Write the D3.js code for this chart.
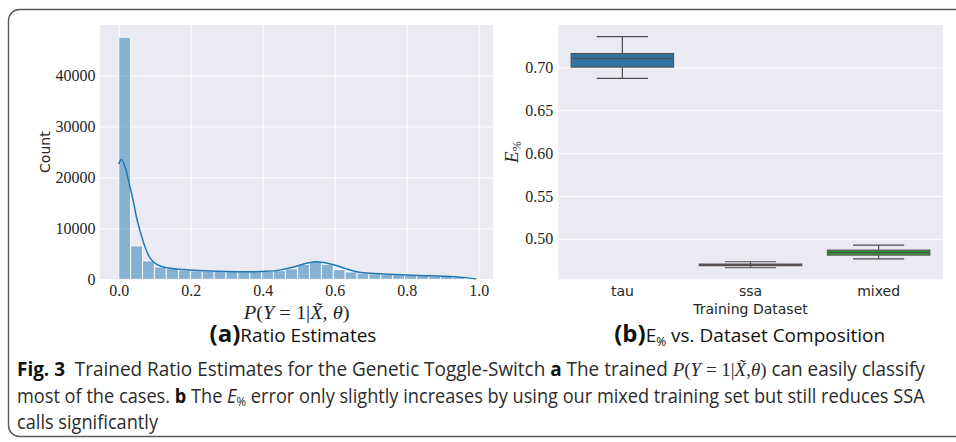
<!DOCTYPE html>
<html><head><meta charset="utf-8">
<script src="https://cdn.jsdelivr.net/npm/d3@7"></script>
<style>html,body{margin:0;padding:0;background:#fff;} svg{display:block;}</style>
</head><body><svg id="c" width="956" height="442"></svg>
<script>
// ---------- data ----------
const histBinEdges = [0.000,0.033,0.066,0.099,0.132,0.166,0.199,0.232,0.265,0.298,0.331,0.364,0.397,0.430,0.463,0.497,0.530,0.563,0.596,0.629,0.662,0.695,0.728,0.761,0.794,0.828,0.861,0.894,0.927,0.960,0.993];
const histCounts = [47500,6550,3600,2400,2100,1800,1650,1630,1580,1520,1510,1520,1560,1700,2050,2900,3480,2950,1900,1450,1200,1050,950,880,800,720,650,560,430,220];
const kdeX = [0.000,0.007,0.020,0.030,0.040,0.050,0.060,0.070,0.080,0.090,0.100,0.120,0.150,0.180,0.220,0.300,0.360,0.410,0.450,0.480,0.510,0.546,0.570,0.600,0.630,0.660,0.700,0.750,0.800,0.850,0.900,0.940,0.970,0.993];
const kdeY = [22600,23500,21500,18500,15500,12000,9300,7000,5100,3900,3200,2500,2100,1900,1720,1530,1480,1560,1850,2300,2900,3450,3300,2800,2100,1500,1200,980,850,720,600,460,280,80];
const histXTicks = [0.0,0.2,0.4,0.6,0.8,1.0];
const histYTicks = [0,10000,20000,30000,40000];

const boxCategories = ["tau","ssa","mixed"];
const boxWhiskerLow  = [0.6872,0.4663,0.4767];
const boxQ1          = [0.7003,0.4686,0.4810];
const boxMedian      = [0.7105,0.4695,0.4841];
const boxQ3          = [0.7163,0.4706,0.4869];
const boxWhiskerHigh = [0.7360,0.4733,0.4927];
const boxColors = ["#3274a1","#845b53","#3a923a"];
const boxYTicks = [0.50,0.55,0.60,0.65,0.70];

// ---------- drawing ----------
const svg = d3.select("#c");
const BG = "#eaeaf2";
const serif = "'Liberation Serif', 'DejaVu Serif', serif";
const sans = "'DejaVu Sans', sans-serif";
const capFont = "'Open Sans', 'Noto Sans', sans-serif";

svg.append("rect").attr("x",8.5).attr("y",9.5).attr("width",1000).attr("height",427)
  .attr("rx",11).attr("fill","#fff").attr("stroke","#5a5a5a").attr("stroke-width",1.4);

// ----- Panel A -----
const A = {l:100, r:493.3, t:25, b:279.3};
const xA = d3.scaleLinear().domain([-0.052,1.0405]).range([A.l,A.r]);
const yA = d3.scaleLinear().domain([0,49900]).range([A.b,A.t]);
const gA = svg.append("g");
gA.append("rect").attr("x",A.l).attr("y",A.t).attr("width",A.r-A.l).attr("height",A.b-A.t).attr("fill",BG);

const gxA = gA.append("g").attr("transform",`translate(0,${A.b})`)
  .call(d3.axisBottom(xA).tickValues(histXTicks).tickSize(-(A.b-A.t)).tickFormat(d3.format(".1f")));
const gyA = gA.append("g").attr("transform",`translate(${A.l},0)`)
  .call(d3.axisLeft(yA).tickValues(histYTicks).tickSize(-(A.r-A.l)).tickPadding(4.5).tickFormat(d3.format("d")));
[gxA,gyA].forEach(g=>{
  g.select(".domain").remove();
  g.selectAll(".tick line").attr("stroke","#fff").attr("stroke-width",1);
  g.selectAll("text").attr("font-family",serif).attr("font-size",16).attr("fill","#262626");
});
gxA.selectAll("text").attr("y",16.8).attr("dy",0);

const bars = histCounts.map((c,i)=>({x0:histBinEdges[i], x1:histBinEdges[i+1], c}));
gA.append("g").selectAll("rect").data(bars).join("rect")
  .attr("x",d=>xA(d.x0)).attr("width",d=>xA(d.x1)-xA(d.x0))
  .attr("y",d=>yA(d.c)).attr("height",d=>yA(0)-yA(d.c))
  .attr("fill","#1f77b4").attr("fill-opacity",0.5)
  .attr("stroke","#fff").attr("stroke-width",0.9);

const kde = kdeX.map((x,i)=>[x,kdeY[i]]);
gA.append("path").datum(kde)
  .attr("d",d3.line().x(d=>xA(d[0])).y(d=>yA(d[1])).curve(d3.curveMonotoneX))
  .attr("fill","none").attr("stroke","#1f77b4").attr("stroke-width",1.5);

gA.append("text").attr("transform",`translate(50,${(A.t+A.b)/2}) rotate(-90)`)
  .attr("text-anchor","middle").attr("font-family",sans).attr("font-size",14).attr("fill","#262626").text("Count");

const mathA = gA.append("text").attr("x",0).attr("y",0).attr("text-anchor","middle")
  .attr("font-family",serif).attr("font-size",19).attr("fill","#262626");
mathA.append("tspan").attr("font-style","italic").text("P");
mathA.append("tspan").text("(");
mathA.append("tspan").attr("font-style","italic").text("Y");
mathA.append("tspan").text(" = 1|");
mathA.append("tspan").attr("font-style","italic").text("X\u0303");
mathA.append("tspan").text(", ");
mathA.append("tspan").attr("font-style","italic").text("\u03B8");
mathA.append("tspan").text(")");
{
  const w = mathA.node().getComputedTextLength();
  mathA.attr("transform",`translate(${(A.l+A.r)/2},319) scale(${106/w},1)`);
}

const tA = svg.append("text").attr("x",293).attr("y",341.7).attr("text-anchor","middle")
  .attr("font-family",capFont).attr("fill","#111");
tA.append("tspan").attr("font-weight","bold").attr("font-size",24).text("(a)");
tA.append("tspan").attr("font-size",19).text("Ratio Estimates");

// ----- Panel B -----
const B = {l:558.3, r:942.7, t:25, b:279.3};
const xB = d3.scaleBand().domain(boxCategories).range([B.l,B.r]).padding(0);
const yB = d3.scaleLinear().domain([0.4528,0.7495]).range([B.b,B.t]);
const gB = svg.append("g");
gB.append("rect").attr("x",B.l).attr("y",B.t).attr("width",B.r-B.l).attr("height",B.b-B.t).attr("fill",BG);
const gyB = gB.append("g").attr("transform",`translate(${B.l},0)`)
  .call(d3.axisLeft(yB).tickValues(boxYTicks).tickSize(-(B.r-B.l)).tickPadding(5).tickFormat(d3.format(".2f")));
gyB.select(".domain").remove();
gyB.selectAll(".tick line").attr("stroke","#fff").attr("stroke-width",1);
gyB.selectAll("text").attr("font-family",serif).attr("font-size",16).attr("fill","#262626");
const gxB = gB.append("g").attr("transform",`translate(0,${B.b})`)
  .call(d3.axisBottom(xB).tickSize(0).tickPadding(0));
gxB.select(".domain").remove();
gxB.selectAll("text").attr("font-family",sans).attr("font-size",14).attr("fill","#262626").attr("y",17).attr("dy",0);

const bw = xB.bandwidth(), boxW = bw*0.8, capW = boxW/2;
const LINE = "#4d4d4d";
const SW = 1.0;
const boxes = boxCategories.map((c,i)=>({c, wl:boxWhiskerLow[i], q1:boxQ1[i], med:boxMedian[i], q3:boxQ3[i], wh:boxWhiskerHigh[i], col:boxColors[i]}));
const gBox = gB.append("g").selectAll("g").data(boxes).join("g");
gBox.each(function(d){
  const g = d3.select(this); const cx = xB(d.c)+bw/2;
  g.append("line").attr("x1",cx).attr("x2",cx).attr("y1",yB(d.wl)).attr("y2",yB(d.q1)).attr("stroke",LINE).attr("stroke-width",1.2);
  g.append("line").attr("x1",cx).attr("x2",cx).attr("y1",yB(d.q3)).attr("y2",yB(d.wh)).attr("stroke",LINE).attr("stroke-width",1.2);
  g.append("line").attr("x1",cx-capW/2).attr("x2",cx+capW/2).attr("y1",yB(d.wl)).attr("y2",yB(d.wl)).attr("stroke",LINE).attr("stroke-width",1.2);
  g.append("line").attr("x1",cx-capW/2).attr("x2",cx+capW/2).attr("y1",yB(d.wh)).attr("y2",yB(d.wh)).attr("stroke",LINE).attr("stroke-width",1.2);
  g.append("rect").attr("x",cx-boxW/2).attr("width",boxW).attr("y",yB(d.q3)).attr("height",yB(d.q1)-yB(d.q3))
    .attr("fill",d.col).attr("stroke",LINE).attr("stroke-width",SW);
  g.append("line").attr("x1",cx-boxW/2).attr("x2",cx+boxW/2).attr("y1",yB(d.med)).attr("y2",yB(d.med)).attr("stroke",LINE).attr("stroke-width",SW);
});

gB.append("text").attr("x",(B.l+B.r)/2).attr("y",313.5).attr("text-anchor","middle")
  .attr("font-family",sans).attr("font-size",14).attr("fill","#262626").text("Training Dataset");

const eLab = gB.append("text").attr("transform",`translate(518,${(B.t+B.b)/2}) rotate(-90)`)
  .attr("text-anchor","middle").attr("font-family",serif).attr("font-size",19).attr("fill","#262626");
eLab.append("tspan").attr("font-style","italic").text("E");
eLab.append("tspan").attr("font-size",12).attr("dy",3).text("%");

const tB = svg.append("text").attr("x",749.7).attr("y",341.7).attr("text-anchor","middle")
  .attr("font-family",capFont).attr("fill","#111");
tB.append("tspan").attr("font-weight","bold").attr("font-size",24).text("(b)");
tB.append("tspan").attr("font-size",19).text("E");
tB.append("tspan").attr("font-size",12).attr("dy",4).text("%");
tB.append("tspan").attr("font-size",19).attr("dy",-4).text(" vs. Dataset Composition");

// ----- Caption -----
const capSize = 19.5;
function capLine(){ return svg.append("text").attr("x",0).attr("y",0).attr("font-family",capFont).attr("font-size",capSize).attr("fill","#2b2b2b"); }
const L1 = capLine();
L1.append("tspan").attr("font-weight","bold").attr("fill","#111").text("Fig. 3");
L1.append("tspan").text("\u00A0 Trained Ratio Estimates for the Genetic Toggle-Switch ");
L1.append("tspan").attr("font-weight","bold").attr("fill","#111").text("a");
L1.append("tspan").text(" The trained ");
const mt = (t,it)=>L1.append("tspan").attr("font-family",serif).attr("font-style",it?"italic":"normal").text(t);
mt("P",1); mt("(",0); mt("Y",1); mt(" = 1|",0); mt("X\u0303",1); mt(",",0); mt("\u03B8",1); mt(")",0);
L1.append("tspan").text(" can easily classify");

const L2 = capLine();
L2.append("tspan").text("most of the cases. ");
L2.append("tspan").attr("font-weight","bold").attr("fill","#111").text("b");
L2.append("tspan").text(" The ");
L2.append("tspan").attr("font-style","italic").text("E");
L2.append("tspan").attr("font-size",12.5).attr("dy",3).text("%");
L2.append("tspan").attr("dy",-3).text(" error only slightly increases by using our mixed training set but still reduces SSA");

const L3 = capLine();
L3.append("tspan").text("calls significantly");

const x0 = 17, target = 908;
const s1 = target / L1.node().getComputedTextLength();
const s2 = target / L2.node().getComputedTextLength();
L1.attr("transform",`translate(${x0},376) scale(${s1},1)`);
L2.attr("transform",`translate(${x0},402.5) scale(${s2},1)`);
L3.attr("transform",`translate(${x0},429) scale(${s2},1)`);
</script>
</body></html>
